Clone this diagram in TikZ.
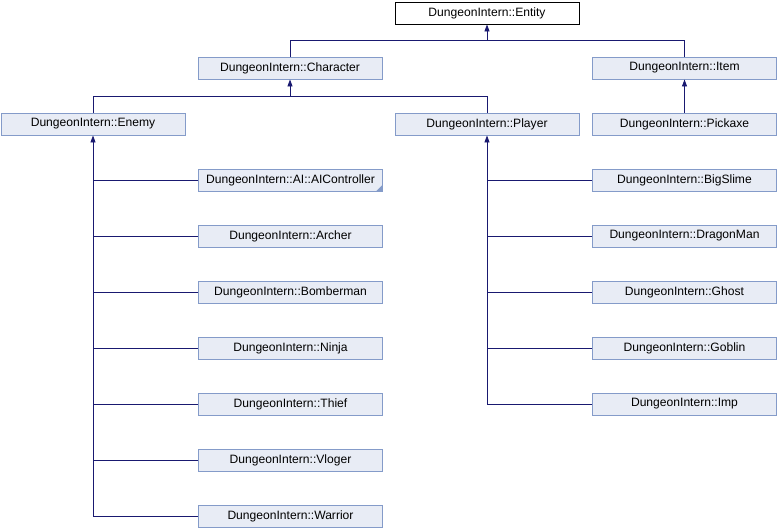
\documentclass[tikz,border=0pt]{standalone}
\usepackage{fontspec}
\setmainfont{Liberation Sans}
\usetikzlibrary{arrows.meta}
\definecolor{edgecol}{RGB}{25,25,112}
\definecolor{boxfill}{RGB}{232,236,245}
\definecolor{boxline}{RGB}{132,155,201}
\begin{document}
\begin{tikzpicture}[x=1pt,y=-1pt,
  cls/.style={draw=boxline,fill=boxfill,line width=0.9pt,minimum width=184pt,minimum height=22pt,inner sep=0pt,font=\fontsize{12.1}{14}\selectfont},
  rootcls/.style={cls,draw=black,fill=white},
  edge/.style={draw=edgecol,line width=0.9pt},
  arr/.style={edge,-{Triangle[width=5pt,length=7pt]}}]
\useasboundingbox (0,0) rectangle (778,528);
\node[rootcls] (entity) at (487,13) {DungeonIntern::Entity};
\node[cls] (character) at (290,68) {DungeonIntern::Character};
\node[cls] (item) at (684.5,68) {DungeonIntern::Item};
\node[cls] (enemy) at (93,124) {DungeonIntern::Enemy};
\node[cls] (player) at (487,124) {DungeonIntern::Player};
\node[cls] (pickaxe) at (684.5,124) {DungeonIntern::Pickaxe};
\node[cls] (ai) at (290.5,180) {DungeonIntern::AI::AIController};
\node[cls] (archer) at (290.5,236) {DungeonIntern::Archer};
\node[cls] (bomberman) at (290.5,292) {DungeonIntern::Bomberman};
\node[cls] (ninja) at (290.5,348) {DungeonIntern::Ninja};
\node[cls] (thief) at (290.5,404) {DungeonIntern::Thief};
\node[cls] (vloger) at (290.5,460) {DungeonIntern::Vloger};
\node[cls] (warrior) at (290.5,516) {DungeonIntern::Warrior};
\node[cls] (bigslime) at (684.5,180) {DungeonIntern::BigSlime};
\node[cls] (dragonman) at (684.5,236) {DungeonIntern::DragonMan};
\node[cls] (ghost) at (684.5,292) {DungeonIntern::Ghost};
\node[cls] (goblin) at (684.5,348) {DungeonIntern::Goblin};
\node[cls] (imp) at (684.5,404) {DungeonIntern::Imp};
\fill[boxline] (ai.south east) -- ++(-7,0) -- ++(7,-7) -- cycle;
\coordinate (je) at (487,40);
\coordinate (jc) at (290,96);
\draw[arr] (character.north) |- (je) -- (entity.south);
\draw[edge] (item.north) |- (je);
\draw[arr] (pickaxe.north) -- (item.south);
\draw[arr] (enemy.north) |- (jc) -- (character.south);
\draw[edge] (player.north) |- (jc);
\draw[arr] (warrior.west) -| (enemy.south);
\foreach \n in {ai,archer,bomberman,ninja,thief,vloger}
  \draw[edge] (\n.west) -- (\n.west -| enemy.south);
\draw[arr] (imp.west) -| (player.south);
\foreach \n in {bigslime,dragonman,ghost,goblin}
  \draw[edge] (\n.west) -- (\n.west -| player.south);
\end{tikzpicture}
\end{document}
